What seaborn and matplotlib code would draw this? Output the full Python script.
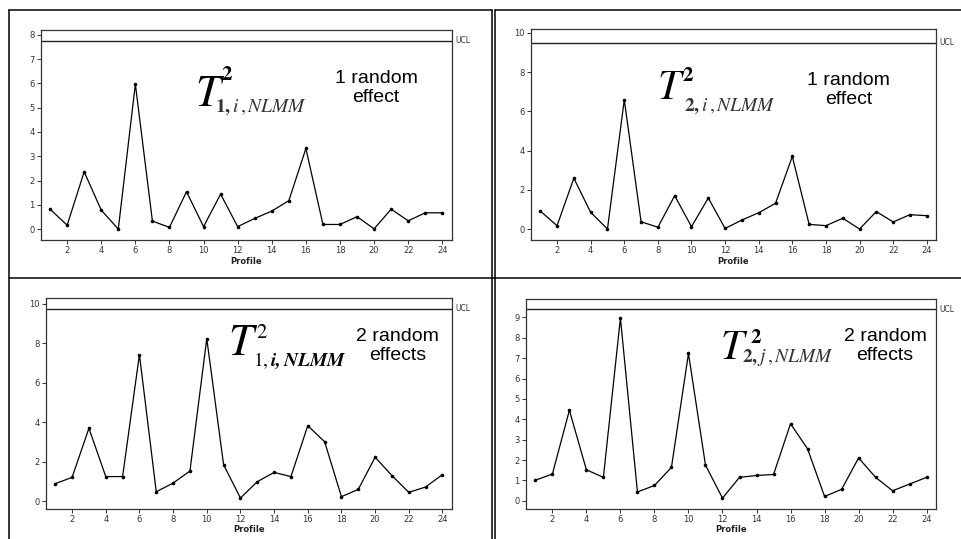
import matplotlib
matplotlib.use("Agg")
import matplotlib.pyplot as plt
from matplotlib.lines import Line2D
import seaborn as sns
import pandas as pd
import numpy as np

sns.set_style("white")
plt.rcParams['font.family'] = ['DejaVu Sans']
plt.rcParams['mathtext.fontset'] = 'stix'

# ---------------- data ----------------
profiles = list(range(1, 25))
t1_one = [0.82, 0.16, 2.36, 0.78, 0.0, 5.97, 0.33, 0.07, 1.54, 0.10, 1.44, 0.10,
          0.44, 0.74, 1.17, 3.32, 0.19, 0.19, 0.51, 0.01, 0.82, 0.34, 0.67, 0.67]
t2_one = [0.92, 0.17, 2.59, 0.85, 0.0, 6.59, 0.37, 0.09, 1.70, 0.12, 1.58, 0.03,
          0.46, 0.83, 1.31, 3.70, 0.24, 0.17, 0.55, 0.0, 0.89, 0.36, 0.73, 0.68]
t1_two = [0.88, 1.20, 3.69, 1.24, 1.24, 7.43, 0.47, 0.91, 1.52, 8.24, 1.84, 0.15,
          0.98, 1.45, 1.24, 3.82, 3.01, 0.22, 0.59, 2.22, 1.29, 0.44, 0.71, 1.34]
t2_two = [1.01, 1.31, 4.44, 1.52, 1.15, 8.97, 0.43, 0.75, 1.64, 7.23, 1.75, 0.13,
          1.15, 1.24, 1.29, 3.78, 2.55, 0.21, 0.56, 2.10, 1.15, 0.49, 0.82, 1.15]
ucl_values = [7.75, 9.49, 9.75, 9.39]
series = [t1_one, t2_one, t1_two, t2_two]
y_ticks = [list(range(0, 9)), [0, 2, 4, 6, 8, 10], [0, 2, 4, 6, 8, 10], list(range(0, 10))]
y_limits = [(-0.45, 8.2), (-0.56, 10.2), (-0.39, 10.3), (-0.39, 9.92)]
x_ticks = list(range(2, 25, 2))
effect_labels = ["1 random\neffect", "1 random\neffect", "2 random\neffects", "2 random\neffects"]
sub_labels = [r'$\mathbf{1,}i\,,NLMM$', r'$\mathbf{2,}i\,,NLMM$',
              r'$\mathrm{1,}\mathbfit{i,NLMM}$', r'$\mathbf{2,}j\,,NLMM$']
sup_labels = [r'$\mathbf{2}$', r'$\mathbf{2}$', r'$\mathrm{2}$', r'$\mathbf{2}$']

# ---------------- layout (pixels) ----------------
W, H = 962, 539
fig = plt.figure(figsize=(W / 100, H / 100), dpi=100)
fig.patch.set_facecolor('white')

rects = [(40.7, 30, 451.7, 240), (531, 29, 936, 240),
         (46, 298, 451.7, 508.7), (526, 298.7, 936, 508.7)]
# T position, sup position, sub position, effect text position (axes fractions)
t_pos = [(0.375, 0.64, 32), (0.31, 0.668, 30), (0.448, 0.728, 32), (0.474, 0.715, 30)]
sup_pos = [(0.438, 0.76), (0.373, 0.755), (0.518, 0.808), (0.546, 0.79)]
sub_pos = [(0.425, 0.612), (0.378, 0.612), (0.51, 0.68), (0.528, 0.698)]
eff_pos = [(0.816, 0.726), (0.785, 0.711), (0.866, 0.77), (0.876, 0.773)]

for k, (x0, y0, x1, y1) in enumerate(rects):
    ax = fig.add_axes([x0 / W, 1 - y1 / H, (x1 - x0) / W, (y1 - y0) / H])
    df = pd.DataFrame({"Profile": profiles, "value": series[k]})
    sns.lineplot(data=df, x="Profile", y="value", ax=ax, color='black', lw=0.9,
                 marker='o', markersize=2.6, markeredgewidth=0, markerfacecolor='black')
    ax.axhline(ucl_values[k], color='#222222', lw=1.0)
    ax.text(1.008, ucl_values[k], "UCL", transform=ax.get_yaxis_transform(),
            fontsize=5.5, color='#333333', va='center', ha='left')
    ax.set_xlim(0.45, 24.55)
    ax.set_ylim(*y_limits[k])
    ax.set_xticks(x_ticks)
    ax.set_yticks(y_ticks[k])
    ax.tick_params(axis='both', which='both', direction='out', length=3, width=0.7,
                   labelsize=6, colors='#333333', pad=1.5, left=True, bottom=True)
    ax.set_xlabel("Profile", fontsize=6, fontweight='bold', labelpad=1, color='#222222')
    ax.set_ylabel("")
    for sp in ax.spines.values():
        sp.set_color('#333333')
        sp.set_linewidth(0.9)

    tx, ty, tsize = t_pos[k]
    ax.text(tx, ty, r'$T$', transform=ax.transAxes, fontsize=tsize, color='black',
            ha='left', va='baseline')
    sx, sy = sup_pos[k]
    ax.text(sx, sy, sup_labels[k], transform=ax.transAxes, fontsize=15, color='black',
            ha='left', va='baseline')
    bx, by = sub_pos[k]
    ax.text(bx, by, sub_labels[k], transform=ax.transAxes, fontsize=14,
            color='black' if k == 2 else '#333333', ha='left', va='baseline')
    ex, ey = eff_pos[k]
    ax.text(ex, ey, effect_labels[k], transform=ax.transAxes, fontsize=14,
            family='Liberation Sans', color='black', ha='center', va='center',
            linespacing=1.15)

# frame lines of the panel grid
def fl(xa, ya, xb, yb):
    fig.add_artist(Line2D([xa / W, xb / W], [1 - ya / H, 1 - yb / H],
                          color='black', lw=1.1, transform=fig.transFigure))

fl(9, 10, 492, 10)
fl(495, 10, W, 10)
fl(9, 10, 9, H)
fl(9, 278, W, 278)
fl(492, 10, 492, H)
fl(495, 10, 495, H)

fig.savefig("out.png", dpi=100, facecolor='white')
